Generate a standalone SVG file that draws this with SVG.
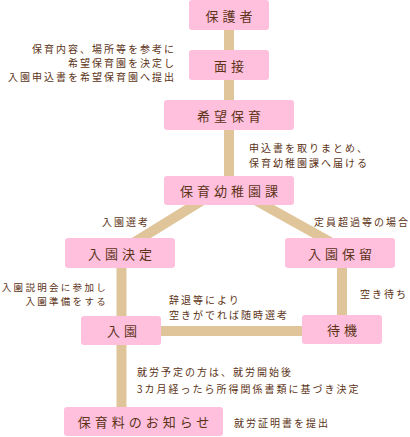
<svg xmlns="http://www.w3.org/2000/svg" width="410" height="437" viewBox="0 0 410 437">
<style>
.ln{stroke:#E0C59A;stroke-width:10;fill:none}
.nd{fill:#FFC0DE}
.nt{font-family:"Noto Sans CJK JP","Noto Sans CJK SC",sans-serif;font-size:13px;fill:#5C3317;text-anchor:middle;letter-spacing:4px;dominant-baseline:central}
.lb{font-family:"Noto Sans CJK JP","Noto Sans CJK SC",sans-serif;font-size:10px;fill:#5C3317;letter-spacing:2px;dominant-baseline:central}
.r{text-anchor:end}
.s{font-size:9.5px;letter-spacing:2.3px}
</style>
<rect width="410" height="437" fill="#FFFFFF"/>
<g id="connectors">
<line class="ln" x1="229" y1="30" x2="229" y2="176"/>
<line class="ln" x1="219" y1="190" x2="117" y2="253"/>
<line class="ln" x1="237" y1="190" x2="350" y2="253"/>
<line class="ln" x1="121.5" y1="268" x2="121.5" y2="407"/>
<line class="ln" x1="342" y1="268" x2="342" y2="316"/>
<line class="ln" x1="161" y1="331" x2="302" y2="331"/>
</g>
<g id="n1"><rect class="nd" x="189" y="0" width="80" height="30" rx="3"/><text class="nt" x="231" y="15">保護者</text></g>
<g id="n2"><rect class="nd" x="189" y="50" width="80" height="30" rx="3"/><text class="nt" x="231" y="65">面接</text></g>
<g id="n3"><rect class="nd" x="164" y="100" width="130" height="30" rx="3"/><text class="nt" x="231" y="115">希望保育</text></g>
<g id="n4"><rect class="nd" x="164" y="176" width="130" height="29" rx="3"/><text class="nt" x="231" y="190.5">保育幼稚園課</text></g>
<g id="n5"><rect class="nd" x="65" y="238" width="110" height="30" rx="3"/><text class="nt" x="122" y="253">入園決定</text></g>
<g id="n6"><rect class="nd" x="285" y="238" width="110" height="30" rx="3"/><text class="nt" x="342" y="253">入園保留</text></g>
<g id="n7"><rect class="nd" x="81" y="316" width="80" height="29" rx="3"/><text class="nt" x="124" y="330.5">入園</text></g>
<g id="n8"><rect class="nd" x="302" y="315" width="80" height="29" rx="3"/><text class="nt" x="344" y="329.5">待機</text></g>
<g id="n9"><rect class="nd" x="64" y="407" width="159" height="29" rx="3"/><text class="nt" x="145.5" y="421.5">保育料のお知らせ</text></g>
<g id="labels">
<text class="lb r" x="176" y="48">保育内容、場所等を参考に</text>
<text class="lb r" x="176" y="62">希望保育園を決定し</text>
<text class="lb r" x="176" y="76">入園申込書を希望保育園へ提出</text>
<text class="lb" x="249" y="147">申込書を取りまとめ、</text>
<text class="lb" x="249" y="162">保育幼稚園課へ届ける</text>
<text class="lb" x="102" y="221">入園選考</text>
<text class="lb" x="314" y="221">定員超過等の場合</text>
<text class="lb r s" x="108" y="286.5">入園説明会に参加し</text>
<text class="lb r s" x="108" y="300.5">入園準備をする</text>
<text class="lb" x="360" y="293">空き待ち</text>
<text class="lb" x="169" y="299">辞退等により</text>
<text class="lb" x="169" y="314">空きがでれば随時選考</text>
<text class="lb" x="137" y="371">就労予定の方は、就労開始後</text>
<text class="lb" x="137" y="388">3カ月経ったら所得関係書類に基づき決定</text>
<text class="lb" x="234" y="422">就労証明書を提出</text>
</g>
</svg>
